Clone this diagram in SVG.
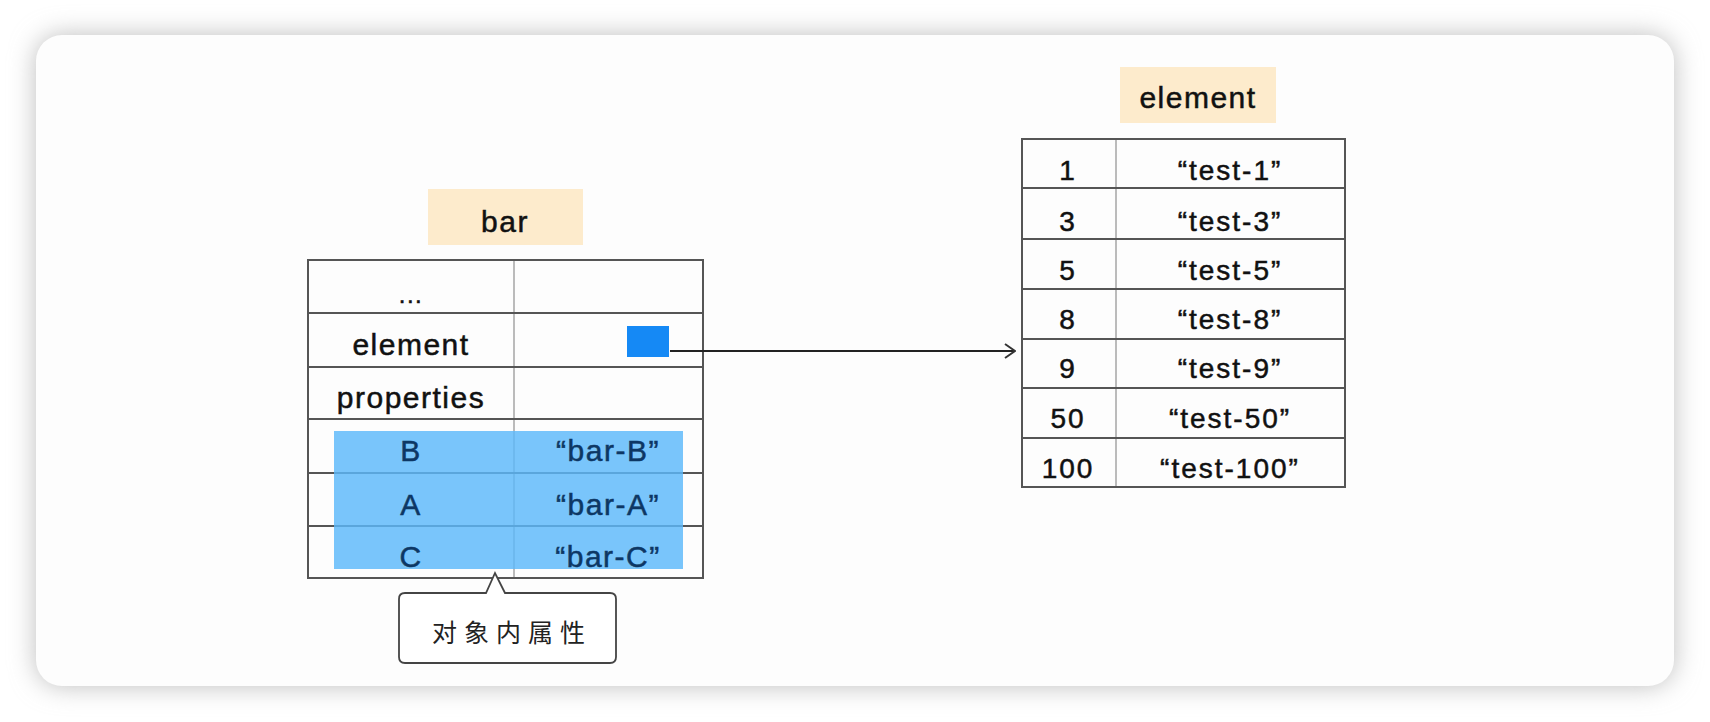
<svg xmlns="http://www.w3.org/2000/svg" width="1710" height="722" viewBox="0 0 1710 722">
<defs>
<filter id="sh" x="-10%" y="-20%" width="120%" height="140%">
<feGaussianBlur stdDeviation="13"/>
</filter>
<marker id="arr" viewBox="0 0 12 16" markerWidth="12" markerHeight="16" refX="11" refY="8" orient="auto" markerUnits="userSpaceOnUse">
<path d="M1,1 L11,8 L1,15" fill="none" stroke="#333" stroke-width="2"/>
</marker>
<style>
.t{font-family:"Liberation Sans","Noto Sans",sans-serif;font-size:30px;fill:#111;stroke:#111;stroke-width:0.5px;letter-spacing:1.5px;text-anchor:middle}
.r{font-family:"Liberation Sans","Noto Sans",sans-serif;font-size:28px;fill:#111;stroke:#111;stroke-width:0.5px;letter-spacing:2px;text-anchor:middle}
.h{fill:#0d3764;stroke:#0d3764}
.cn{font-family:"Noto Sans CJK SC",sans-serif;font-size:25px;fill:#222;text-anchor:middle;letter-spacing:7px}
.grid{stroke:#555;stroke-width:2;fill:none}
.col{stroke:#bbb;stroke-width:2}
.lbl{fill:#FDEBCC}
</style>
</defs>
<rect width="1710" height="722" fill="#ffffff"/>
<rect x="36" y="35" width="1638" height="651" rx="26" fill="#bdbdbd" filter="url(#sh)"/>
<rect x="36" y="35" width="1638" height="651" rx="26" fill="#fdfdfd"/>

<g id="bar-label">
<rect class="lbl" x="428" y="189" width="155" height="56"/>
<text class="t" x="505" y="232">bar</text>
</g>

<g id="bar-table">
<line class="col" x1="514" y1="260" x2="514" y2="578"/>
<rect class="grid" x="308" y="260" width="395" height="318"/>
<line class="grid" x1="308" y1="313" x2="703" y2="313"/>
<line class="grid" x1="308" y1="367" x2="703" y2="367"/>
<line class="grid" x1="308" y1="419" x2="703" y2="419"/>
<line class="grid" x1="308" y1="473" x2="703" y2="473"/>
<line class="grid" x1="308" y1="526" x2="703" y2="526"/>
<text class="t" x="411" y="303" style="font-size:24px">...</text>
<text class="t" x="411" y="355">element</text>
<text class="t" x="411" y="408">properties</text>
<rect x="627" y="326" width="42" height="31" fill="#1589F5"/>
<rect x="334" y="431" width="349" height="138" fill="#5CB8FA" fill-opacity="0.82"/>
<text class="t h" x="411" y="461">B</text>
<text class="t h" x="608" y="461">“bar-B”</text>
<text class="t h" x="411" y="515">A</text>
<text class="t h" x="608" y="515">“bar-A”</text>
<text class="t h" x="411" y="567">C</text>
<text class="t h" x="608" y="567">“bar-C”</text>
</g>

<g id="callout">
<path d="M405,593 L486,593 L495,573 L505,593 L610,593 Q616,593 616,599 L616,657 Q616,663 610,663 L405,663 Q399,663 399,657 L399,599 Q399,593 405,593 Z" fill="#ffffff" stroke="#444" stroke-width="1.8"/>
<text class="cn" x="512" y="642">对象内属性</text>
</g>

<g id="element-label">
<rect class="lbl" x="1120" y="67" width="156" height="56"/>
<text class="t" x="1198" y="108">element</text>
</g>

<g id="element-table">
<line class="col" x1="1116" y1="139" x2="1116" y2="487"/>
<rect class="grid" x="1022" y="139" width="323" height="348"/>
<line class="grid" x1="1022" y1="188" x2="1345" y2="188"/>
<line class="grid" x1="1022" y1="239" x2="1345" y2="239"/>
<line class="grid" x1="1022" y1="289" x2="1345" y2="289"/>
<line class="grid" x1="1022" y1="339" x2="1345" y2="339"/>
<line class="grid" x1="1022" y1="388" x2="1345" y2="388"/>
<line class="grid" x1="1022" y1="438" x2="1345" y2="438"/>
<text class="r" x="1068" y="180">1</text><text class="r" x="1230" y="180">“test-1”</text>
<text class="r" x="1068" y="231">3</text><text class="r" x="1230" y="231">“test-3”</text>
<text class="r" x="1068" y="280">5</text><text class="r" x="1230" y="280">“test-5”</text>
<text class="r" x="1068" y="329">8</text><text class="r" x="1230" y="329">“test-8”</text>
<text class="r" x="1068" y="378">9</text><text class="r" x="1230" y="378">“test-9”</text>
<text class="r" x="1068" y="428">50</text><text class="r" x="1230" y="428">“test-50”</text>
<text class="r" x="1068" y="478">100</text><text class="r" x="1230" y="478">“test-100”</text>
</g>

<g id="connectors">
<line x1="670" y1="351" x2="1015" y2="351" stroke="#222" stroke-width="2" marker-end="url(#arr)"/>
</g>
</svg>
